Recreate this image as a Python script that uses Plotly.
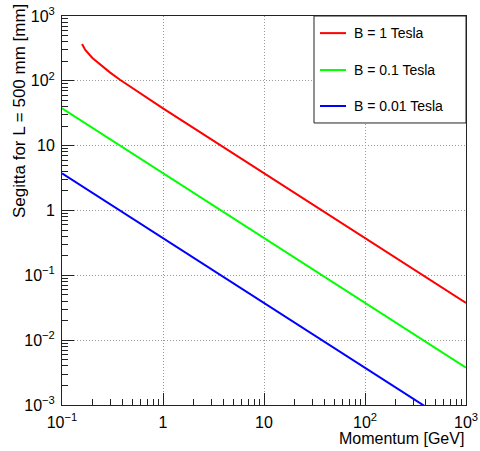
import plotly.graph_objects as go

# Momentum values [GeV] and sagitta readings [mm] for each field strength
p_b1 = [0.158, 0.17, 0.2, 0.25, 0.3, 0.375, 0.5, 0.7, 1, 2, 5, 10, 100, 1000]
s_b1 = [370, 300, 225, 167, 134, 104, 77, 54, 37.7, 18.8, 7.5, 3.75, 0.375, 0.0375]

p_b01 = [0.1, 0.2, 1, 10, 100, 1000]
s_b01 = [37.7, 18.8, 3.75, 0.375, 0.0375, 0.00375]

p_b001 = [0.1, 1, 10, 100, 1000]
s_b001 = [3.75, 0.375, 0.0375, 0.00375, 0.000375]

series_names = ["B = 1 Tesla", "B = 0.1 Tesla", "B = 0.01 Tesla"]
series_colors = ["#ff0000", "#00ff00", "#0000ff"]

x_tickvals = [0.1, 1, 10, 100, 1000]
x_ticktext = ["10<sup>\u22121</sup>", "1", "10", "10<sup>2</sup>", "10<sup>3</sup>"]
y_tickvals = [1e-3, 1e-2, 1e-1, 1, 10, 100, 1000]
y_ticktext = ["10<sup>\u22123</sup>", "10<sup>\u22122</sup>", "10<sup>\u22121</sup>",
              "1", "10", "10<sup>2</sup>", "10<sup>3</sup>"]

x_minor = [m * 10 ** e for e in range(-1, 3) for m in range(2, 10)]
y_minor = [m * 10 ** e for e in range(-3, 3) for m in range(2, 10)]

FONT = "Liberation Sans, Arial, Helvetica, sans-serif"

fig = go.Figure()
for xs, ys, name, col in zip([p_b1, p_b01, p_b001], [s_b1, s_b01, s_b001],
                             series_names, series_colors):
    fig.add_trace(go.Scatter(x=xs, y=ys, mode="lines", name=name,
                             line=dict(color=col, width=2), showlegend=False))

axis_common = dict(
    type="log",
    automargin=False,
    showline=True, linecolor="#222222", linewidth=1, mirror=True,
    ticks="inside", ticklen=12, tickwidth=1, tickcolor="#222222",
    showgrid=True, gridcolor="#9a9a9a", griddash="1px,2px", gridwidth=1,
    zeroline=False,
    tickfont=dict(family=FONT, size=16, color="#000000"),
)

fig.update_xaxes(
    **axis_common,
    range=[-1, 3],
    tickmode="array", tickvals=x_tickvals, ticktext=x_ticktext,
    minor=dict(tickmode="array", tickvals=x_minor, ticks="inside", ticklen=6,
               tickwidth=1, tickcolor="#222222", showgrid=False),
    ticklabelstandoff=3,
)
fig.update_yaxes(
    **axis_common,
    range=[-3, 3],
    tickmode="array", tickvals=y_tickvals, ticktext=y_ticktext,
    minor=dict(tickmode="array", tickvals=y_minor, ticks="inside", ticklen=6,
               tickwidth=1, tickcolor="#222222", showgrid=False),
    ticklabelstandoff=3,
)

# Legend box drawn in paper coordinates
box_x0, box_x1, box_y0, box_y1 = 0.6238, 1.0, 0.725, 1.0
shapes = [dict(type="rect", xref="paper", yref="paper",
               x0=box_x0, x1=box_x1, y0=box_y0, y1=box_y1,
               fillcolor="white", line=dict(color="#222222", width=1),
               layer="above")]
annotations = []
entry_y = [0.956, 0.861, 0.7686]
for name, col, yy in zip(series_names, series_colors, entry_y):
    shapes.append(dict(type="line", xref="paper", yref="paper",
                       x0=0.6386, x1=0.703, y0=yy, y1=yy,
                       line=dict(color=col, width=2), layer="above"))
    annotations.append(dict(xref="paper", yref="paper", x=0.7178, y=yy,
                            xanchor="left", yanchor="middle", showarrow=False,
                            text=name, font=dict(family=FONT, size=14, color="#000000")))

# Axis titles, right-aligned to the end of each axis
annotations.append(dict(xref="paper", yref="paper", x=1.0, y=-0.085,
                        xanchor="right", yanchor="middle", showarrow=False,
                        text="Momentum [GeV]",
                        font=dict(family=FONT, size=16, color="#000000")))
annotations.append(dict(xref="paper", yref="paper", x=-0.104, y=1.036,
                        xanchor="center", yanchor="top", showarrow=False,
                        textangle=-90, text="Segitta for L = 500 mm [mm]",
                        font=dict(family=FONT, size=17, color="#000000")))

fig.update_layout(
    width=480, height=451,
    margin=dict(l=62, r=14, t=16, b=46, autoexpand=False),
    paper_bgcolor="white", plot_bgcolor="white",
    shapes=shapes, annotations=annotations,
    showlegend=False,
)

fig.write_html("out.html")
